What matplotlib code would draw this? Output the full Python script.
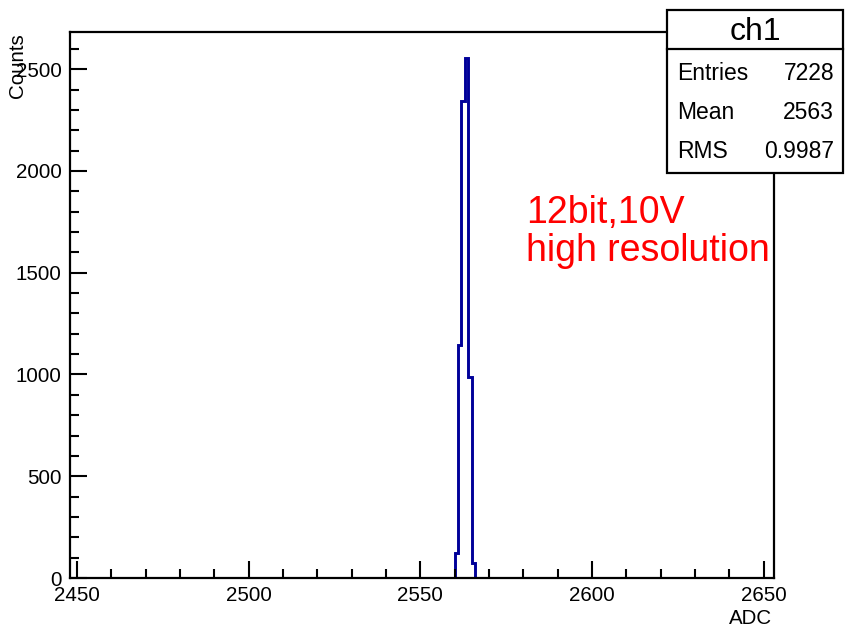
import matplotlib
matplotlib.use("Agg")
import matplotlib.pyplot as plt
from matplotlib.patches import Rectangle
from matplotlib.ticker import MultipleLocator

plt.rcParams['font.family'] = ['Liberation Sans', 'DejaVu Sans']

# histogram data (1 ADC count per bin)
bin_edges = [2560, 2561, 2562, 2563, 2564, 2565, 2566]
counts = [122, 1145, 2344, 2555, 990, 72]

hist_name = 'ch1'
stat_names = ['Entries', 'Mean', 'RMS']
stat_values = ['7228', '2563', '0.9987']

W, H = 846, 628
fig = plt.figure(figsize=(W/100, H/100), dpi=100)
ax = fig.add_axes([70/W, 1-578/H, 704/W, 546/H])

ax.stairs(counts, bin_edges, color='#000099', linewidth=2.1)

ax.set_xlim(2448.0, 2653.0)
ax.set_ylim(0, 2683)
ax.xaxis.set_major_locator(MultipleLocator(50))
ax.xaxis.set_minor_locator(MultipleLocator(10))
ax.yaxis.set_major_locator(MultipleLocator(500))
ax.yaxis.set_minor_locator(MultipleLocator(100))
ax.tick_params(which='both', direction='in', width=1.5, labelsize=14.8,
               top=False, right=False)
ax.tick_params(which='major', length=12, pad=6)
ax.tick_params(which='minor', length=6.5)
for s in ax.spines.values():
    s.set_linewidth(1.6)

fig.text(772/W, 1-618/H, 'ADC', ha='right', va='center', fontsize=14.8)
fig.text(17/W, 1-33/H, 'Counts', ha='center', va='top', rotation=90, fontsize=14.8)

# annotation
fig.text(526/W, 1-223/H, '12bit,10V', color='red', fontsize=27, va='baseline')
fig.text(526/W, 1-261/H, 'high resolution', color='red', fontsize=27, va='baseline')

# stats box
x0, x1, y0, y1, ysep = 667, 843, 10, 173, 49
fig.add_artist(Rectangle((x0/W, 1-y1/H), (x1-x0)/W, (y1-y0)/H, transform=fig.transFigure,
                         facecolor='white', edgecolor='black', linewidth=1.6, zorder=5))
fig.add_artist(plt.Line2D([x0/W, x1/W], [1-ysep/H, 1-ysep/H], transform=fig.transFigure,
                          color='black', linewidth=1.6, zorder=6))
fig.text((x0+x1)/2/W, 1-40/H, hist_name, ha='center', va='baseline', fontsize=23, zorder=7)
for i, (nm, val) in enumerate(zip(stat_names, stat_values)):
    yb = 80 + i*39
    fig.text(677/W, 1-yb/H, nm, ha='left', va='baseline', fontsize=16.5, zorder=7)
    fig.text(834/W, 1-yb/H, val, ha='right', va='baseline', fontsize=16.5, zorder=7)

fig.savefig('out.png', dpi=100, facecolor='white')
